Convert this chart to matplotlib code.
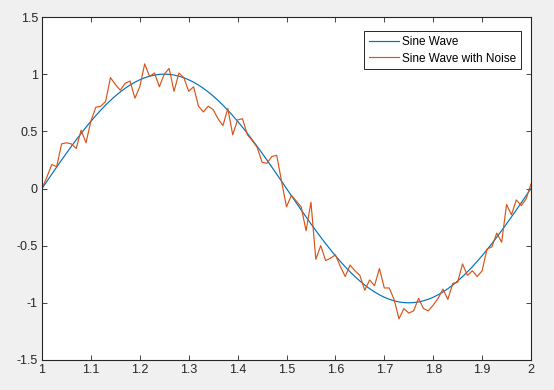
import numpy as np
import matplotlib
matplotlib.use("Agg")
import matplotlib.pyplot as plt

plt.rcParams['font.family'] = ['Liberation Sans', 'DejaVu Sans']

x_start, x_end, n_points = 1.0, 2.0, 101
x = np.linspace(x_start, x_end, n_points)
sine = np.sin(2 * np.pi * x)

noisy = [
    0.00, 0.10, 0.21, 0.19, 0.39, 0.40, 0.39, 0.35, 0.51, 0.40,
    0.59, 0.71, 0.72, 0.76, 0.97, 0.91, 0.86, 0.92, 0.94, 0.79,
    0.89, 1.09, 0.98, 1.01, 0.89, 1.00, 1.05, 0.85, 1.01, 0.97,
    0.85, 0.89, 0.72, 0.67, 0.72, 0.69, 0.61, 0.55, 0.70, 0.47,
    0.60, 0.61, 0.47, 0.42, 0.36, 0.23, 0.22, 0.28, 0.29, 0.06,
    -0.16, -0.06, -0.11, -0.16, -0.37, -0.12, -0.62, -0.50, -0.63, -0.61,
    -0.58, -0.68, -0.77, -0.67, -0.72, -0.76, -0.89, -0.80, -0.85, -0.70,
    -0.87, -0.87, -0.97, -1.14, -1.05, -1.09, -1.07, -0.96, -1.05, -1.07,
    -1.02, -0.96, -0.88, -0.97, -0.83, -0.82, -0.66, -0.76, -0.72, -0.77,
    -0.72, -0.53, -0.51, -0.39, -0.47, -0.14, -0.23, -0.10, -0.15, -0.09,
    0.04,
]

series_labels = ["Sine Wave", "Sine Wave with Noise"]
x_ticks = [1, 1.1, 1.2, 1.3, 1.4, 1.5, 1.6, 1.7, 1.8, 1.9, 2]
x_tick_labels = ["1", "1.1", "1.2", "1.3", "1.4", "1.5", "1.6", "1.7", "1.8", "1.9", "2"]
y_ticks = [-1.5, -1, -0.5, 0, 0.5, 1, 1.5]
y_tick_labels = ["-1.5", "-1", "-0.5", "0", "0.5", "1", "1.5"]

fig = plt.figure(figsize=(5.54, 3.90), dpi=100, facecolor='#F0F0F0')
ax = fig.add_axes([42/554, 1 - 360/390, (531-42)/554, (360-17)/390])
ax.set_facecolor('white')

ax.plot(x, sine, color='#0072BD', lw=0.85, label=series_labels[0])
ax.plot(x, noisy, color='#D95319', lw=0.85, label=series_labels[1])

ax.set_xlim(1, 2)
ax.set_ylim(-1.5, 1.5)
ax.set_xticks(x_ticks)
ax.set_xticklabels(x_tick_labels)
ax.set_yticks(y_ticks)
ax.set_yticklabels(y_tick_labels)

for s in ax.spines.values():
    s.set_color('#262626')
    s.set_linewidth(0.8)
ax.tick_params(direction='in', length=3.5, width=0.6, colors='#262626',
               labelsize=9, top=True, right=True, pad=3)

leg = ax.legend(loc='upper right', bbox_to_anchor=(0.980, 0.959), borderaxespad=0,
                fontsize=8.5, frameon=True, fancybox=False, edgecolor='#262626',
                framealpha=1, handlelength=2.6, handletextpad=0.25,
                borderpad=0.4, labelspacing=0.4)
leg.get_frame().set_linewidth(0.7)

fig.savefig('out.png', dpi=100, facecolor=fig.get_facecolor())
